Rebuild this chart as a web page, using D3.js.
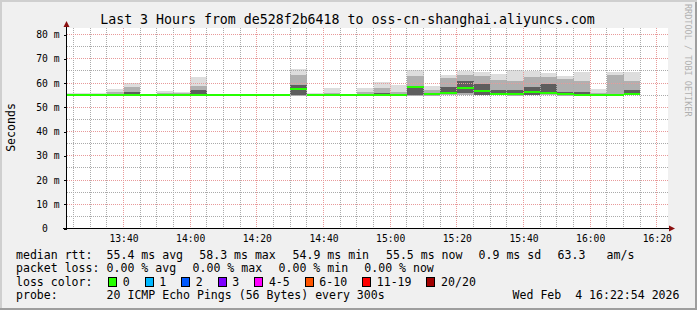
<!DOCTYPE html>
<html>
<head>
<meta charset="utf-8">
<script src="https://cdn.jsdelivr.net/npm/d3@7"></script>
<style>
  html, body { margin: 0; padding: 0; background: #f0f0f0; }
  svg { display: block; }
  text { font-family: "DejaVu Sans Mono", monospace; white-space: pre; }
</style>
</head>
<body>
<svg id="chart" width="697" height="310"></svg>
<script>
// ---- data -----------------------------------------------------------------
const slotTimes = ['13:20','13:25','13:30','13:35','13:40','13:45','13:50','13:55',
  '14:00','14:05','14:10','14:15','14:20','14:25','14:30','14:35','14:40','14:45',
  '14:50','14:55','15:00','15:05','15:10','15:15','15:20','15:25','15:30','15:35',
  '15:40','15:45','15:50','15:55','16:00','16:05','16:10'];

// smoke: outer range, ~80th pct, dark core (35..65 pct), all in ms
const pingMax = [55.9,56.0,56.0,57.5,60.0,55.3,56.8,56.2,62.4,55.3,55.3,55.3,55.3,55.3,
  65.7,55.9,57.9,55.3,57.9,60.3,59.0,65.3,58.7,63.3,65.1,64.6,63.8,65.2,65.0,64.3,
  62.8,64.6,57.5,64.6,64.4];
const ping80 = [55.5,55.6,55.6,56.3,58.3,55.2,56.0,55.7,58.8,55.2,55.2,55.2,55.2,55.2,
  63.5,55.5,56.0,55.2,56.2,58.0,56.3,63.0,57.2,62.0,63.5,63.0,61.2,61.0,62.5,62.5,
  61.8,61.0,56.0,63.5,61.0];
const ping65 = [55.2,55.2,55.2,55.5,56.3,55.1,55.4,55.3,57.0,55.1,55.1,55.1,55.1,55.1,
  59.0,55.2,55.4,55.1,55.5,56.0,55.5,58.8,56.0,58.4,61.0,59.5,57.0,57.0,58.5,59.8,
  56.5,56.5,55.5,55.5,57.0];
const ping35 = [54.9,54.9,54.9,54.9,55.0,54.9,54.9,54.8,55.0,54.9,54.9,54.8,54.9,54.9,
  55.2,54.9,54.9,54.9,54.9,54.9,54.9,55.0,55.1,55.3,55.7,55.2,55.1,55.0,55.2,55.4,
  55.1,55.0,54.9,54.9,55.2];
const pingMin = [54.8,54.8,54.8,54.8,54.7,54.8,54.8,54.7,54.7,54.8,54.8,54.7,54.8,54.8,
  54.6,54.8,54.8,54.8,54.8,54.8,54.8,54.8,54.8,55.0,55.0,54.9,54.9,54.8,55.0,55.0,
  54.8,54.8,54.8,54.8,54.9];
const median = [55.0,55.0,55.0,55.1,55.2,55.0,55.0,54.9,55.2,55.0,55.0,54.9,55.0,55.0,
  57.6,55.0,55.1,55.0,55.1,55.1,55.1,58.3,55.3,55.9,58.0,56.8,55.4,55.3,56.4,55.7,
  55.3,55.2,55.1,55.1,55.6];

const yTicks  = [0,10,20,30,40,50,60,70,80];
const xTicks  = ['13:40','14:00','14:20','14:40','15:00','15:20','15:40','16:00','16:20'];

const lossLabels = ['0','1','2','3','4-5','6-10','11-19','20/20'];
const lossColors = ['#26ff00','#00b8ff','#0059ff','#7e00ff','#ff00ff','#ff5500','#ff0000','#a10000'];

const titleText = 'Last 3 Hours from de528f2b6418 to oss-cn-shanghai.aliyuncs.com';
const rttLine  = ['median rtt:','55.4 ms avg','58.3 ms max','54.9 ms min','55.5 ms now','0.9 ms sd','63.3','am/s'];
const lossLine = ['packet loss:','0.00 % avg','0.00 % max','0.00 % min','0.00 % now'];
const probeLine = ['probe:','20 ICMP Echo Pings (56 Bytes) every 300s','Wed Feb  4 16:22:54 2026'];

// ---- layout ----------------------------------------------------------------
const W = 697, H = 310;
const PL = 67, PR = 668, PT = 28, PB = 228;
const rttX   = [16,106.6,199.3,292.6,386,478.6,557.6,606.6];
const lossX  = [16,106.6,192.6,278.6,364.3];
const probeX = [16,106.6,512.6];
const FS = 11.55;

const day = (hm, s = 0) => { const [h,m] = hm.split(':').map(Number); return new Date(2026,1,4,h,m,s); };
const t0 = new Date(2026,1,4,13,22,54), t1 = new Date(2026,1,4,16,22,54);

const x = d3.scaleTime().domain([t0,t1]).range([66.5,666.5]);
const y = d3.scaleLinear().domain([0,82.5]).range([228.5,28.5]);

const svg = d3.select('#chart');

// background + 3d frame
svg.append('rect').attr('width',W).attr('height',H).attr('fill','#f0f0f0');
svg.append('path').attr('d','M0,0H697V2H2V310H0Z').attr('fill','#cfcfcf');
svg.append('path').attr('d','M697,0V310H0V308H695V2H697Z').attr('fill','#9e9e9e');

// canvas
svg.append('rect').attr('x',PL).attr('y',PT).attr('width',PR-PL).attr('height',PB-PT).attr('fill','#fff');
svg.append('defs').append('clipPath').attr('id','clip')
  .append('rect').attr('x',PL).attr('y',PT).attr('width',PR-PL).attr('height',PB-PT);

const slots = slotTimes.map((t,i) => ({
  x0: Math.round(x(day(t))), x1: Math.round(x(new Date(+day(t)+300000))),
  max: pingMax[i], p80: ping80[i], p65: ping65[i], p35: ping35[i], min: pingMin[i], med: median[i]
}));

// smoke
const smoke = svg.append('g').attr('clip-path','url(#clip)').attr('shape-rendering','crispEdges');
const bands = [
  {lo: d => d.min, hi: d => d.max, c: '#dddddd'},
  {lo: d => d.min, hi: d => d.p80, c: '#b0b0b0'},
  {lo: d => d.p35, hi: d => d.p65, c: '#5e5e5e'}
];
bands.forEach(b => {
  smoke.append('g').selectAll('rect').data(slots).join('rect')
    .attr('x', d => d.x0).attr('width', d => d.x1 - d.x0)
    .attr('y', d => Math.round(y(b.hi(d))))
    .attr('height', d => Math.max(0, Math.round(y(b.lo(d))) - Math.round(y(b.hi(d)))))
    .attr('fill', b.c);
});

// grid
const grid = svg.append('g').attr('shape-rendering','crispEdges').attr('stroke-dasharray','1,1');
const minutes = d3.timeMinute.every(5).range(new Date(+t0+1000), t1);
grid.selectAll('line.v').data(minutes).join('line').attr('class','v')
  .attr('x1', d => Math.floor(x(d)) + 0.5).attr('x2', d => Math.floor(x(d)) + 0.5)
  .attr('y1', PT).attr('y2', PB)
  .attr('stroke', d => d.getMinutes() % 20 === 0 ? '#e89a9a' : '#ababab');
grid.selectAll('line.h').data(d3.range(5, 81, 5)).join('line').attr('class','h')
  .attr('x1', PL).attr('x2', PR)
  .attr('y1', d => Math.floor(y(d)) + 0.5).attr('y2', d => Math.floor(y(d)) + 0.5)
  .attr('stroke', d => d % 10 === 0 ? '#e89a9a' : '#ababab');

// median line
svg.append('g').attr('clip-path','url(#clip)').attr('shape-rendering','crispEdges')
  .selectAll('rect').data(slots).join('rect')
  .attr('x', d => d.x0).attr('width', d => d.x1 - d.x0)
  .attr('y', d => Math.round(y(d.med)) - 1).attr('height', 2)
  .attr('fill', lossColors[0]);

// axes
const yAxis = svg.append('g').attr('transform','translate(66.5,0)')
  .call(d3.axisLeft(y).tickValues(yTicks).tickSize(3).tickPadding(4)
    .tickFormat(d => d === 0 ? '0\u00a0\u00a0' : `${d} m`));
yAxis.select('.domain').remove();
yAxis.attr('font-family','DejaVu Sans Mono').attr('font-size',9.7);
yAxis.selectAll('text').attr('fill','#000');
yAxis.selectAll('line').attr('stroke','#000').attr('shape-rendering','crispEdges');

const xAxis = svg.append('g').attr('transform','translate(0,228)')
  .call(d3.axisBottom(x).tickValues(xTicks.map(t => day(t))).tickSize(0).tickPadding(7)
    .tickFormat(d3.timeFormat('%H:%M')));
xAxis.select('.domain').remove();
xAxis.attr('font-family','DejaVu Sans Mono').attr('font-size',9.7);
xAxis.selectAll('text').attr('fill','#000');

svg.append('line').attr('x1',66.5).attr('x2',66.5).attr('y1',229).attr('y2',26)
  .attr('stroke','#000').attr('shape-rendering','crispEdges');
svg.append('line').attr('x1',63).attr('x2',670).attr('y1',228.5).attr('y2',228.5)
  .attr('stroke','#000').attr('shape-rendering','crispEdges');
svg.append('path').attr('d','M63.5,27L69.5,27L66.5,21Z').attr('fill','#8b1010');
svg.append('path').attr('d','M669,225.5L669,231.5L675,228.5Z').attr('fill','#8b1010');

// titles
svg.append('text').attr('x',347.5).attr('y',23.5).attr('text-anchor','middle')
  .attr('font-size',13.25).attr('fill','#000').text(titleText);
svg.append('text').attr('transform','translate(15,127.5) rotate(-90)').attr('text-anchor','middle')
  .attr('font-size',FS).attr('fill','#000').text('Seconds');
svg.append('text').attr('transform','translate(685,4) rotate(90)')
  .attr('font-size',8.5).attr('fill','#b0b0b0').text('RRDTOOL / TOBI OETIKER');

// legend
const leg = svg.append('g').attr('font-size',FS).attr('fill','#000');
const line = (items, xs, yy) => leg.append('g').selectAll('text').data(items).join('text')
  .attr('x', (d,i) => xs[i]).attr('y', yy).text(d => d);
line(rttLine, rttX, 258.5);
line(lossLine, lossX, 272);
leg.append('text').attr('x',16).attr('y',285.5).text('loss color:');
let cx = 108.5;
lossLabels.forEach((l,i) => {
  leg.append('rect').attr('x',cx).attr('y',277.5).attr('width',8).attr('height',9)
    .attr('fill',lossColors[i]).attr('stroke','#000').attr('shape-rendering','crispEdges');
  leg.append('text').attr('x',cx+14.2).attr('y',285.5).text(l);
  cx = cx + 14.2 + l.length*6.95 + 15.4;
});
line(probeLine, probeX, 299);
</script>
</body>
</html>
